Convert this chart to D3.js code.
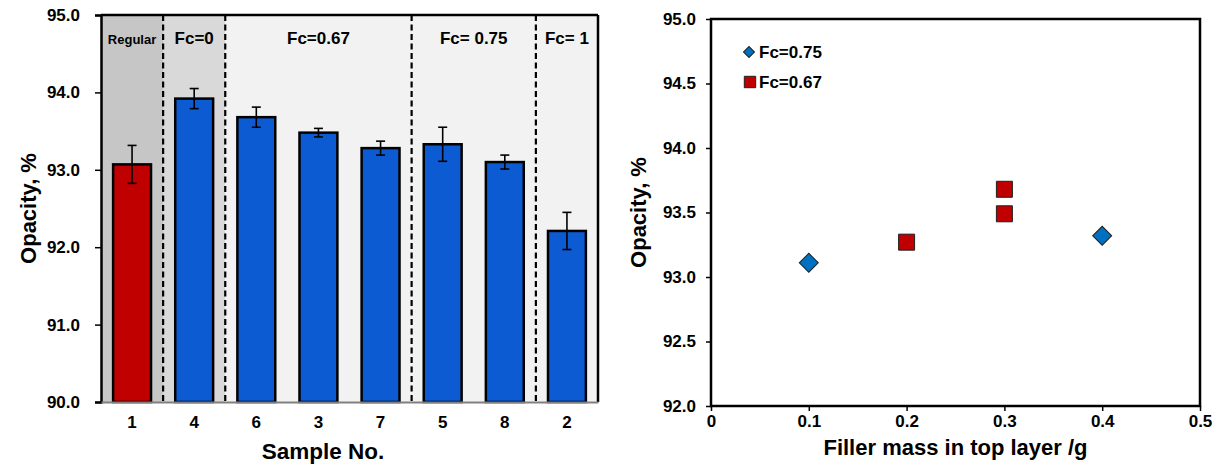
<!DOCTYPE html>
<html>
<head>
<meta charset="utf-8">
<script src="https://cdn.jsdelivr.net/npm/d3@7"></script>
<style>
  body { margin: 0; background: #fff; }
  text { font-family: "Liberation Sans", Arial, sans-serif; font-weight: bold; fill: #000; }
</style>
</head>
<body>
<svg id="chart" width="1214" height="466"></svg>
<script>
// left chart: opacity per sample
var samples = ["1", "4", "6", "3", "7", "5", "8", "2"];
var opacity = [93.07, 93.92, 93.68, 93.48, 93.28, 93.33, 93.10, 92.21];
var opacityErr = [0.245, 0.13, 0.13, 0.055, 0.09, 0.22, 0.09, 0.24];

// sample groups (shaded regions)
var groupLabels = ["Regular", "Fc=0", "Fc=0.67", "Fc= 0.75", "Fc= 1"];
var groupFirst = ["1", "4", "6", "5", "2"];
var groupLast = ["1", "4", "7", "8", "2"];

// right chart: opacity vs filler mass
var fc075Mass = [0.1, 0.4];
var fc075Opacity = [93.11, 93.32];
var fc067Mass = [0.2, 0.3, 0.3];
var fc067Opacity = [93.27, 93.68, 93.49];

var leftTicks = [90, 91, 92, 93, 94, 95];
var rightYTicks = [92, 92.5, 93, 93.5, 94, 94.5, 95];
var rightXTicks = [0, 0.1, 0.2, 0.3, 0.4, 0.5];

var svg = d3.select("#chart");
var fmt1 = d3.format(".1f");

// ---------- left: bar chart ----------
var L = {left: 101, right: 598, top: 15, bottom: 402};

var x = d3.scaleBand()
    .domain(samples)
    .range([L.left, L.right]);

var y = d3.scaleLinear()
    .domain([90, 95])
    .range([L.bottom, L.top]);

var groupFill = ["#c6c6c6", "#d9d9d9", "#f2f2f2", "#f2f2f2", "#f2f2f2"];

var left = svg.append("g");

left.append("rect")
    .attr("x", L.left).attr("y", L.top)
    .attr("width", L.right - L.left).attr("height", L.bottom - L.top)
    .attr("fill", "#f2f2f2");

groupLabels.forEach(function(g, i) {
    var x0 = x(groupFirst[i]);
    var x1 = x(groupLast[i]) + x.bandwidth();
    left.append("rect")
        .attr("x", x0).attr("y", L.top)
        .attr("width", x1 - x0).attr("height", L.bottom - L.top)
        .attr("fill", groupFill[i]);
    if (i > 0) {
        left.append("line")
            .attr("x1", x0).attr("x2", x0)
            .attr("y1", L.top).attr("y2", L.bottom)
            .attr("stroke", "#000")
            .attr("stroke-width", 2.2)
            .attr("stroke-dasharray", "6,3.5");
    }
    left.append("text")
        .attr("x", (x0 + x1) / 2)
        .attr("y", 44)
        .attr("text-anchor", "middle")
        .style("font-size", i == 0 ? "13px" : "17px")
        .text(g);
});

var barW = x.bandwidth() * 0.61;

left.selectAll(".bar")
    .data(samples)
    .enter()
    .append("rect")
    .attr("x", function(d) { return x(d) + (x.bandwidth() - barW) / 2; })
    .attr("y", function(d, i) { return y(opacity[i]); })
    .attr("width", barW)
    .attr("height", function(d, i) { return y(90) - y(opacity[i]); })
    .attr("fill", function(d, i) { return i == 0 ? "#c00000" : "#0d5bd2"; })
    .attr("stroke", "#000")
    .attr("stroke-width", 2.5);

// error bars
var eb = left.selectAll(".err")
    .data(samples)
    .enter()
    .append("g")
    .attr("stroke", "#000")
    .attr("stroke-width", 1.6);
eb.append("line")
    .attr("x1", function(d) { return x(d) + x.bandwidth() / 2; })
    .attr("x2", function(d) { return x(d) + x.bandwidth() / 2; })
    .attr("y1", function(d, i) { return y(opacity[i] + opacityErr[i]); })
    .attr("y2", function(d, i) { return y(opacity[i] - opacityErr[i]); });
eb.append("line")
    .attr("x1", function(d) { return x(d) + x.bandwidth() / 2 - 4.5; })
    .attr("x2", function(d) { return x(d) + x.bandwidth() / 2 + 4.5; })
    .attr("y1", function(d, i) { return y(opacity[i] + opacityErr[i]); })
    .attr("y2", function(d, i) { return y(opacity[i] + opacityErr[i]); });
eb.append("line")
    .attr("x1", function(d) { return x(d) + x.bandwidth() / 2 - 4.5; })
    .attr("x2", function(d) { return x(d) + x.bandwidth() / 2 + 4.5; })
    .attr("y1", function(d, i) { return y(opacity[i] - opacityErr[i]); })
    .attr("y2", function(d, i) { return y(opacity[i] - opacityErr[i]); });

// frame: top and right black, bottom gray
left.append("line")
    .attr("x1", L.left).attr("x2", L.right)
    .attr("y1", L.top).attr("y2", L.top)
    .attr("stroke", "#000").attr("stroke-width", 2.5);
left.append("line")
    .attr("x1", L.right).attr("x2", L.right)
    .attr("y1", L.top).attr("y2", L.bottom)
    .attr("stroke", "#000").attr("stroke-width", 2.5);

var yAxisL = left.append("g")
    .attr("transform", "translate(" + L.left + ",0)")
    .call(d3.axisLeft(y).tickValues(leftTicks).tickFormat(fmt1).tickSize(6).tickPadding(15));
yAxisL.select(".domain").attr("stroke-width", 2.5);
yAxisL.selectAll(".tick line").attr("stroke-width", 1.5);
yAxisL.selectAll("text").style("font-size", "17px");

var xAxisL = left.append("g")
    .attr("transform", "translate(0," + L.bottom + ")")
    .call(d3.axisBottom(x).tickSize(0).tickPadding(14));
xAxisL.select(".domain").attr("stroke", "#808080").attr("stroke-width", 2);
xAxisL.selectAll("text").style("font-size", "17px");

left.append("text")
    .attr("x", 323)
    .attr("y", 459)
    .attr("text-anchor", "middle")
    .style("font-size", "22.5px")
    .text("Sample No.");

left.append("text")
    .attr("transform", "translate(36," + ((L.top + L.bottom) / 2) + ") rotate(-90)")
    .attr("text-anchor", "middle")
    .style("font-size", "22px")
    .text("Opacity, %");

// ---------- right: scatter ----------
var R = {left: 711, right: 1200, top: 19, bottom: 406};

var xs = d3.scaleLinear()
    .domain([0, 0.5])
    .range([R.left, R.right]);

var ys = d3.scaleLinear()
    .domain([92, 95])
    .range([R.bottom, R.top]);

var right = svg.append("g");

right.append("rect")
    .attr("x", R.left).attr("y", R.top)
    .attr("width", R.right - R.left).attr("height", R.bottom - R.top)
    .attr("fill", "none")
    .attr("stroke", "#000")
    .attr("stroke-width", 2.5);

var yAxisR = right.append("g")
    .attr("transform", "translate(" + R.left + ",0)")
    .call(d3.axisLeft(ys).tickValues(rightYTicks).tickFormat(fmt1).tickSize(5).tickPadding(10));
yAxisR.select(".domain").remove();
yAxisR.selectAll(".tick line").attr("stroke-width", 1.5);
yAxisR.selectAll("text").style("font-size", "17px");

var xAxisR = right.append("g")
    .attr("transform", "translate(0," + R.bottom + ")")
    .call(d3.axisBottom(xs).tickValues(rightXTicks)
        .tickFormat(function(d) { return d === 0 ? "0" : fmt1(d); })
        .tickSize(5).tickPadding(4));
xAxisR.select(".domain").remove();
xAxisR.selectAll(".tick line").attr("stroke-width", 1.5);
xAxisR.selectAll("text").style("font-size", "17px");

var diamond = d3.symbol().type(d3.symbolSquare).size(180);
var square = d3.symbol().type(d3.symbolSquare).size(256);

right.selectAll(".fc075")
    .data(fc075Mass)
    .enter()
    .append("path")
    .attr("d", diamond)
    .attr("transform", function(d, i) {
        return "translate(" + xs(d) + "," + ys(fc075Opacity[i]) + ") rotate(45)";
    })
    .attr("fill", "#0070c0")
    .attr("stroke", "#1f1f1f")
    .attr("stroke-width", 1);

right.selectAll(".fc067")
    .data(fc067Mass)
    .enter()
    .append("path")
    .attr("d", square)
    .attr("transform", function(d, i) {
        return "translate(" + xs(d) + "," + ys(fc067Opacity[i]) + ")";
    })
    .attr("fill", "#c00000")
    .attr("stroke", "#1f1f1f")
    .attr("stroke-width", 1);

// legend
var legend = right.append("g");
legend.append("path")
    .attr("d", d3.symbol().type(d3.symbolSquare).size(60))
    .attr("transform", "translate(749,52) rotate(45)")
    .attr("fill", "#0070c0")
    .attr("stroke", "#1f1f1f");
legend.append("text")
    .attr("x", 759).attr("y", 58)
    .style("font-size", "17px")
    .text("Fc=0.75");
legend.append("path")
    .attr("d", d3.symbol().type(d3.symbolSquare).size(130))
    .attr("transform", "translate(750,82)")
    .attr("fill", "#c00000")
    .attr("stroke", "#1f1f1f");
legend.append("text")
    .attr("x", 759).attr("y", 88)
    .style("font-size", "17px")
    .text("Fc=0.67");

right.append("text")
    .attr("x", (R.left + R.right) / 2)
    .attr("y", 455)
    .attr("text-anchor", "middle")
    .style("font-size", "22px")
    .text("Filler mass in top layer /g");

right.append("text")
    .attr("transform", "translate(646," + ((R.top + R.bottom) / 2) + ") rotate(-90)")
    .attr("text-anchor", "middle")
    .style("font-size", "22px")
    .text("Opacity, %");
</script>
</body>
</html>
